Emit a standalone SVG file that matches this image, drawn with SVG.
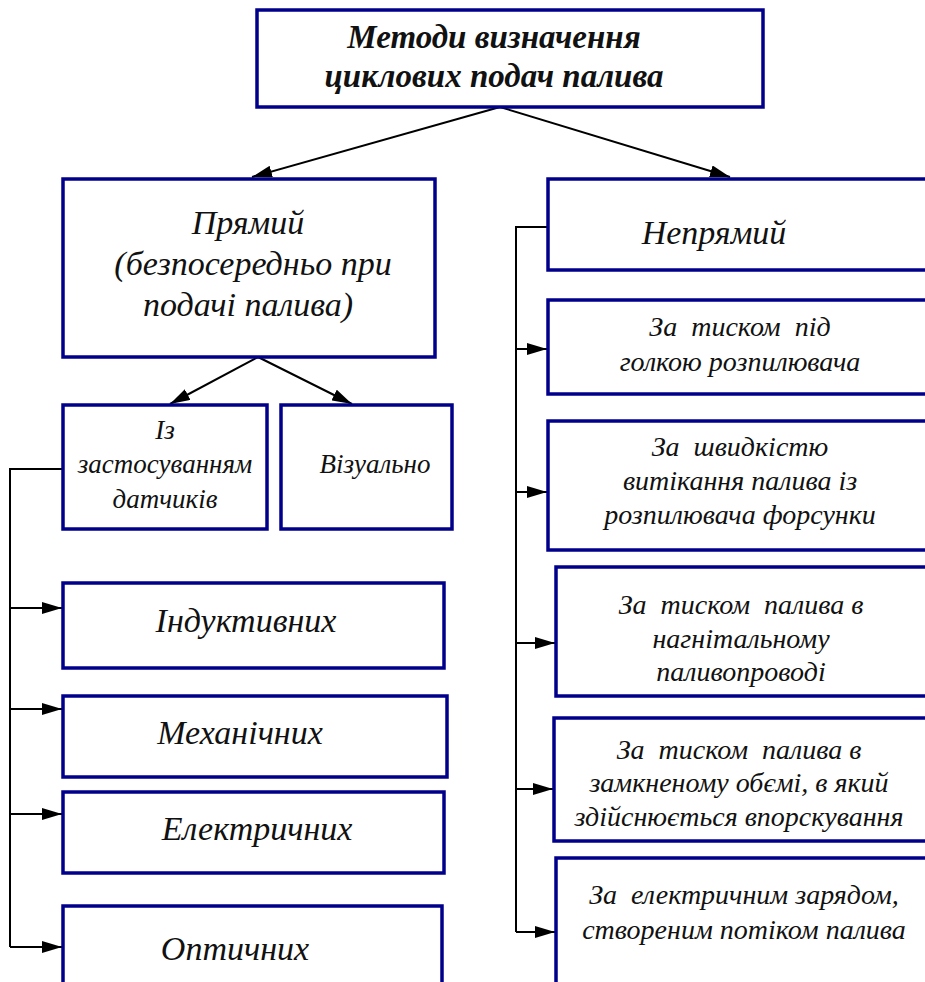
<svg xmlns="http://www.w3.org/2000/svg" width="925" height="982" viewBox="0 0 925 982">
<style>
.box{fill:#fff;stroke:#00008b;stroke-width:3.5}
.c{fill:none;stroke:#000;stroke-width:2}
.tx text{font-style:italic;fill:#111;text-anchor:middle}
.t{font-size:33px;font-weight:bold}
.l{font-size:34px}
.m{font-size:34px}
.s{font-size:27px}
.r{font-size:28px}
</style>
<defs>
<marker id="ah2" viewBox="0 0 20 12" refX="20" refY="6" markerWidth="20" markerHeight="12" markerUnits="userSpaceOnUse" orient="auto">
<path d="M0,0 L20,6 L0,12 z" fill="#000"/>
</marker>
</defs>
<rect width="925" height="982" fill="#fff"/>
<g id="connectors">
<path class="c" d="M500,107 L252,177" marker-end="url(#ah2)"/>
<path class="c" d="M500,107 L730,177" marker-end="url(#ah2)"/>
<path class="c" d="M258,357 L170,404" marker-end="url(#ah2)"/>
<path class="c" d="M258,357 L352,404" marker-end="url(#ah2)"/>
<path class="c" d="M63,469 H10 V947"/>
<path class="c" d="M10,608 H62" marker-end="url(#ah2)"/>
<path class="c" d="M10,709 H62" marker-end="url(#ah2)"/>
<path class="c" d="M10,814 H62" marker-end="url(#ah2)"/>
<path class="c" d="M10,947 H62" marker-end="url(#ah2)"/>
<path class="c" d="M548,227 H516 V932"/>
<path class="c" d="M516,349 H547" marker-end="url(#ah2)"/>
<path class="c" d="M516,492 H547" marker-end="url(#ah2)"/>
<path class="c" d="M516,643 H555" marker-end="url(#ah2)"/>
<path class="c" d="M516,789 H553" marker-end="url(#ah2)"/>
<path class="c" d="M516,932 H555" marker-end="url(#ah2)"/>
</g>
<g class="tx" font-family="'Liberation Serif', 'DejaVu Serif', serif">
<g id="root">
<rect class="box" x="257" y="10" width="506" height="97"/>
<text class="t" x="494" y="48">Методи визначення</text>
<text class="t" x="494" y="87">циклових подач палива</text>
</g>
<g id="direct">
<rect class="box" x="63" y="179" width="372" height="178"/>
<text class="l" x="248" y="234">Прямий</text>
<text class="l" x="253" y="275">(безпосередньо при</text>
<text class="l" x="248" y="316">подачі палива)</text>
</g>
<g id="sensors">
<rect class="box" x="63" y="405" width="204" height="124"/>
<text class="s" x="165" y="439">Із</text>
<text class="s" x="165" y="473">застосуванням</text>
<text class="s" x="165" y="508">датчиків</text>
</g>
<g id="visual">
<rect class="box" x="281" y="405" width="171" height="124"/>
<text class="s" x="375" y="473">Візуально</text>
</g>
<g id="inductive">
<rect class="box" x="63" y="583" width="381" height="85"/>
<text class="m" x="246" y="632">Індуктивних</text>
</g>
<g id="mechanical">
<rect class="box" x="63" y="696" width="384" height="81"/>
<text class="m" x="240" y="744">Механічних</text>
</g>
<g id="electrical">
<rect class="box" x="63" y="792" width="381" height="81"/>
<text class="m" x="257" y="840">Електричних</text>
</g>
<g id="optical">
<rect class="box" x="63" y="906" width="379" height="90"/>
<text class="m" x="235" y="960">Оптичних</text>
</g>
<g id="indirect">
<rect class="box" x="548" y="179" width="400" height="91"/>
<text class="m" x="714" y="244">Непрямий</text>
</g>
<g id="needle">
<rect class="box" x="548" y="300" width="400" height="94"/>
<text class="r" x="740" y="336" xml:space="preserve">За  тиском  під</text>
<text class="r" x="740" y="371">голкою розпилювача</text>
</g>
<g id="outflow">
<rect class="box" x="548" y="421" width="400" height="129"/>
<text class="r" x="740" y="456" xml:space="preserve">За  швидкістю</text>
<text class="r" x="740" y="490">витікання палива із</text>
<text class="r" x="740" y="524">розпилювача форсунки</text>
</g>
<g id="pipeline">
<rect class="box" x="556" y="567" width="400" height="129"/>
<text class="r" x="741" y="614" xml:space="preserve">За  тиском  палива в</text>
<text class="r" x="741" y="648">нагнітальному</text>
<text class="r" x="741" y="681">паливопроводі</text>
</g>
<g id="closed">
<rect class="box" x="554" y="718" width="400" height="123"/>
<text class="r" x="739" y="759" xml:space="preserve">За  тиском  палива в</text>
<text class="r" x="739" y="792">замкненому обємі, в який</text>
<text class="r" x="739" y="826">здійснюється впорскування</text>
</g>
<g id="charge">
<rect class="box" x="556" y="858" width="400" height="140"/>
<text class="r" x="744" y="904" xml:space="preserve">За  електричним зарядом,</text>
<text class="r" x="744" y="939">створеним потіком палива</text>
</g>
</g>
</svg>
